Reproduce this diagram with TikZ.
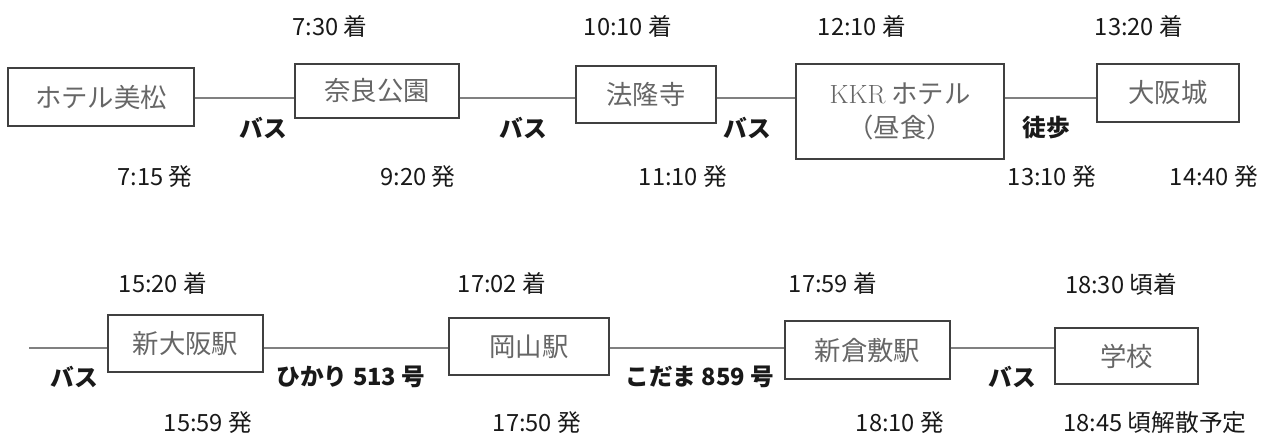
\documentclass[tikz,border=0pt]{standalone}
\usepackage{fontspec}
\newfontfamily\jp{Noto Sans CJK JP}
\usetikzlibrary{positioning}

\tikzset{
  stop/.style={draw=black!75, line width=0.8pt, inner sep=0pt, font=\jp\fontsize{15}{19}\selectfont, text=black!60, align=center},
  time/.style={font=\jp\fontsize{13.5}{16}\selectfont, text=black!90},
  ride/.style={font=\jp\bfseries\fontsize{13.5}{16}\selectfont, text=black!90},
  rail/.style={draw=black!50, line width=0.6pt, double=white, double distance=1.2pt}
}

\begin{document}
\begin{tikzpicture}[x=0.02cm, y=-0.02cm]
\useasboundingbox (0,0) rectangle (1264,437);

% first day row
\node[stop, minimum width=3.72cm, minimum height=1.16cm] (hotel) at (101,97) {ホテル美松};
\node[stop, minimum width=3.28cm, minimum height=1.08cm] (nara) at (377,91) {奈良公園};
\node[stop, minimum width=2.80cm, minimum height=1.14cm] (horyu) at (646,94.5) {法隆寺};
\node[stop, minimum width=4.16cm, minimum height=1.90cm] (kkr) at (900,111.5) {{\rmfamily KKR} ホテル\\（昼食）};
\node[stop, minimum width=2.84cm, minimum height=1.16cm] (osaka) at (1168,93) {大阪城};
\coordinate (r1) at (0,98);

\node[time] (a1) at (330,26) {7:30 着};
\node[time] (a2) at (628,26) {10:10 着};
\node[time] (a3) at (862,26) {12:10 着};
\node[time] (a4) at (1139,26) {13:20 着};
\node[time] (d0) at (155,177) {7:15 発};
\node[time] (d1) at (418,177) {9:20 発};
\node[time] (d2) at (683,177) {11:10 発};
\node[time] (d3) at (1052,177) {13:10 発};
\node[time] (d4) at (1214,177) {14:40 発};
\node[ride] (m1) at (263,128) {バス};
\node[ride] (m2) at (523,128) {バス};
\node[ride] (m3) at (747,128) {バス};
\node[ride] (m4) at (1046,128) {徒歩};

\path[rail] (hotel.east |- r1) edge (nara.west |- r1);
\path[rail] (nara.east |- r1) edge (horyu.west |- r1);
\path[rail] (horyu.east |- r1) edge (kkr.west |- r1);
\path[rail] (kkr.east |- r1) edge (osaka.west |- r1);

% return row
\node[stop, minimum width=3.10cm, minimum height=1.14cm] (shinosaka) at (185.5,343.5) {新大阪駅};
\node[stop, minimum width=3.20cm, minimum height=1.14cm] (okayama) at (529,346.5) {岡山駅};
\node[stop, minimum width=3.30cm, minimum height=1.16cm] (kurashiki) at (867.5,350) {新倉敷駅};
\node[stop, minimum width=2.86cm, minimum height=1.12cm] (school) at (1126.5,356) {学校};
\coordinate (r2) at (29,348);

\node[time] (a5) at (163,283) {15:20 着};
\node[time] (a6) at (502,283) {17:02 着};
\node[time] (a7) at (833,283) {17:59 着};
\node[time] (a8) at (1121,284) {18:30 頃着};
\node[time] (d5) at (208,423) {15:59 発};
\node[time] (d6) at (537,423) {17:50 発};
\node[time] (d7) at (900,423) {18:10 発};
\node[time] (d8) at (1155,423) {18:45 頃解散予定};
\node[ride] (m5) at (74,377) {バス};
\node[ride] (m6) at (351,377) {ひかり 513 号};
\node[ride] (m7) at (700,377) {こだま 859 号};
\node[ride] (m8) at (1012,377) {バス};

\path[rail] (r2) edge (shinosaka.west |- r2);
\path[rail] (shinosaka.east |- r2) edge (okayama.west |- r2);
\path[rail] (okayama.east |- r2) edge (kurashiki.west |- r2);
\path[rail] (kurashiki.east |- r2) edge (school.west |- r2);
\end{tikzpicture}
\end{document}
